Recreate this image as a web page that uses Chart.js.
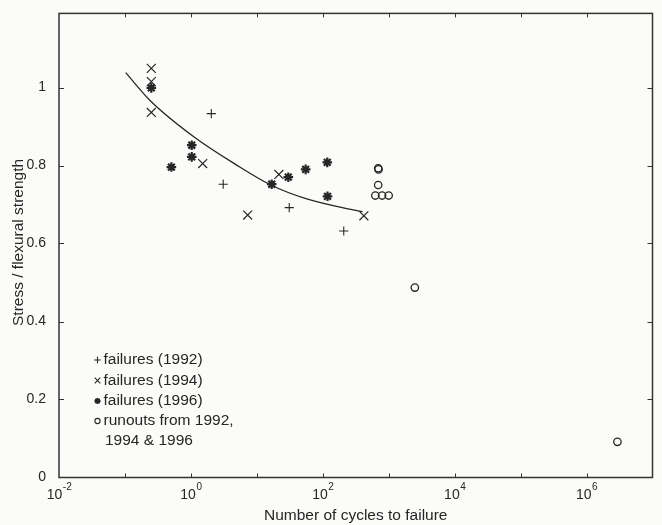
<!DOCTYPE html>
<html>
<head>
<meta charset="utf-8">
<script src="https://cdn.jsdelivr.net/npm/chart.js@4/dist/chart.umd.min.js"></script>
<style>
  html, body { margin: 0; padding: 0; background: #fbfbf9; }
  #wrap { width: 662px; height: 525px; }
</style>
</head>
<body>
<div id="wrap"><canvas id="c" width="662" height="525"></canvas></div>
<script>
// ---- data ----
const fail1992X = [2.04, 3.09, 31, 208];
const fail1992Y = [0.933, 0.752, 0.692, 0.632];

const fail1994X = [0.251, 0.251, 0.251, 1.51, 21.6, 7.26, 420];
const fail1994Y = [1.049, 1.015, 0.936, 0.805, 0.777, 0.673, 0.671];

const fail1996X = [0.251, 1.03, 1.03, 0.506, 16.8, 30, 55, 117, 118];
const fail1996Y = [0.999, 0.852, 0.822, 0.796, 0.752, 0.770, 0.790, 0.808, 0.721];

const runoutX = [693, 700, 692, 627, 793, 998, 2490, 2940000];
const runoutY = [0.793, 0.790, 0.750, 0.723, 0.723, 0.723, 0.487, 0.0915];

const fitX = [0.1026, 0.249, 1.16, 4.74, 16.3, 55.6, 255, 402];
const fitY = [1.038, 0.964, 0.871, 0.803, 0.750, 0.715, 0.688, 0.682];

const xTickExponents = [-2, 0, 2, 4, 6];
const yTickLabels = ['0', '0.2', '0.4', '0.6', '0.8', '1'];
const legendLabels = ['failures (1992)', 'failures (1994)', 'failures (1996)', 'runouts from 1992,', '1994 & 1996'];
const xTitle = 'Number of cycles to failure';
const yTitle = 'Stress / flexural strength';

const INK = '#262626';
const FONT = '"Liberation Sans", Arial, Helvetica, sans-serif';

const pts = (xs, ys) => xs.map((x, i) => ({ x: x, y: ys[i] }));

const decorPlugin = {
  id: 'decor',
  afterDraw(chart) {
    const ctx = chart.ctx;
    const a = chart.chartArea;
    const xs = chart.scales.x, ys = chart.scales.y;
    ctx.save();
    ctx.strokeStyle = '#333';
    ctx.lineWidth = 1.5;
    ctx.strokeRect(a.left, a.top, a.right - a.left, a.bottom - a.top);
    // x ticks (every decade, inward, top & bottom)
    ctx.lineWidth = 1;
    ctx.beginPath();
    for (let e = -1; e <= 6; e++) {
      const px = Math.round(xs.getPixelForValue(Math.pow(10, e))) + 0.5;
      ctx.moveTo(px, a.bottom); ctx.lineTo(px, a.bottom - 4);
      ctx.moveTo(px, a.top); ctx.lineTo(px, a.top + 4);
    }
    // y ticks (inward, left & right)
    for (let i = 1; i < yTickLabels.length; i++) {
      const py = Math.round(ys.getPixelForValue(i * 0.2)) + 0.5;
      ctx.moveTo(a.left, py); ctx.lineTo(a.left + 5, py);
      ctx.moveTo(a.right, py); ctx.lineTo(a.right - 5, py);
    }
    ctx.stroke();

    // x tick labels 10^e
    ctx.fillStyle = INK;
    ctx.textBaseline = 'middle';
    ctx.textAlign = 'left';
    xTickExponents.forEach(e => {
      const px = xs.getPixelForValue(Math.pow(10, e));
      ctx.font = '14px ' + FONT;
      const w1 = ctx.measureText('10').width;
      ctx.font = '10px ' + FONT;
      const sup = (e < 0 ? '-' : '') + Math.abs(e);
      const w2 = ctx.measureText(sup).width;
      const start = px - (w1 + w2) / 2;
      ctx.font = '14px ' + FONT;
      ctx.fillText('10', start, a.bottom + 18);
      ctx.font = '10px ' + FONT;
      ctx.fillText(sup, start + w1 + 0.5, a.bottom + 10);
    });

    // axis titles
    ctx.font = '15.5px ' + FONT;
    ctx.textAlign = 'center';
    ctx.fillText(xTitle, (a.left + a.right) / 2, 516);
    ctx.save();
    ctx.translate(19, (a.top + a.bottom) / 2 - 3);
    ctx.rotate(-Math.PI / 2);
    ctx.fillText(yTitle, 0, 0);
    ctx.restore();

    // legend
    const lx = 97.5, tx = 103.5;
    const rows = [360, 380.5, 401, 421, 441];
    ctx.font = '15.5px ' + FONT;
    ctx.textAlign = 'left';
    legendLabels.forEach((t, i) => {
      ctx.fillText(t, i === 4 ? tx + 1.5 : tx, rows[i]);
    });
    ctx.strokeStyle = INK;
    ctx.lineWidth = 1.1;
    ctx.beginPath();
    // +
    ctx.moveTo(lx - 3.3, rows[0]); ctx.lineTo(lx + 3.3, rows[0]);
    ctx.moveTo(lx, rows[0] - 3.3); ctx.lineTo(lx, rows[0] + 3.3);
    // x
    ctx.moveTo(lx - 2.8, rows[1] - 2.8); ctx.lineTo(lx + 2.8, rows[1] + 2.8);
    ctx.moveTo(lx - 2.8, rows[1] + 2.8); ctx.lineTo(lx + 2.8, rows[1] - 2.8);
    ctx.stroke();
    // *
    ctx.lineWidth = 1.8;
    ctx.beginPath();
    ctx.moveTo(lx - 3, rows[2]); ctx.lineTo(lx + 3, rows[2]);
    ctx.moveTo(lx, rows[2] - 3); ctx.lineTo(lx, rows[2] + 3);
    ctx.moveTo(lx - 2.2, rows[2] - 2.2); ctx.lineTo(lx + 2.2, rows[2] + 2.2);
    ctx.moveTo(lx - 2.2, rows[2] + 2.2); ctx.lineTo(lx + 2.2, rows[2] - 2.2);
    ctx.stroke();
    // o
    ctx.lineWidth = 1.1;
    ctx.beginPath();
    ctx.arc(lx, rows[3], 2.6, 0, Math.PI * 2);
    ctx.stroke();
    ctx.restore();
  }
};

new Chart(document.getElementById('c'), {
  type: 'scatter',
  data: {
    datasets: [
      { label: 'fit', type: 'line', data: pts(fitX, fitY), showLine: true,
        borderColor: INK, borderWidth: 1.3, pointRadius: 0, fill: false,
        cubicInterpolationMode: 'monotone' },
      { label: legendLabels[0], data: pts(fail1992X, fail1992Y), pointStyle: 'cross',
        radius: 4.6, borderColor: INK, borderWidth: 1.1, backgroundColor: INK },
      { label: legendLabels[1], data: pts(fail1994X, fail1994Y), pointStyle: 'crossRot',
        radius: 6.3, borderColor: INK, borderWidth: 1.2, backgroundColor: INK },
      { label: legendLabels[2], data: pts(fail1996X, fail1996Y), pointStyle: 'star',
        radius: 4.8, borderColor: INK, borderWidth: 2.2, backgroundColor: INK },
      { label: legendLabels[3], data: pts(runoutX, runoutY), pointStyle: 'circle',
        radius: 3.7, borderColor: INK, borderWidth: 1.3, backgroundColor: 'rgba(0,0,0,0)' }
    ]
  },
  options: {
    responsive: false,
    animation: false,
    devicePixelRatio: 1,
    layout: { padding: { top: 11.5, right: 9.5, left: 0, bottom: 0 } },
    plugins: { legend: { display: false }, tooltip: { enabled: false } },
    scales: {
      x: {
        type: 'logarithmic', min: 0.01, max: 1e7,
        grid: { display: false }, border: { display: false },
        ticks: { display: false },
        afterFit(s) { s.height = 47.5; }
      },
      y: {
        type: 'linear', min: 0, max: 1.19,
        grid: { display: false }, border: { display: false },
        ticks: {
          stepSize: 0.2, padding: 5, color: INK,
          font: { family: FONT, size: 14 },
          callback: (v) => { const i = Math.round(v / 0.2); return Math.abs(v - i * 0.2) < 1e-6 && i < yTickLabels.length ? yTickLabels[i] : ''; }
        },
        afterFit(s) { s.width = 59; }
      }
    }
  },
  plugins: [decorPlugin]
});
</script>
</body>
</html>
